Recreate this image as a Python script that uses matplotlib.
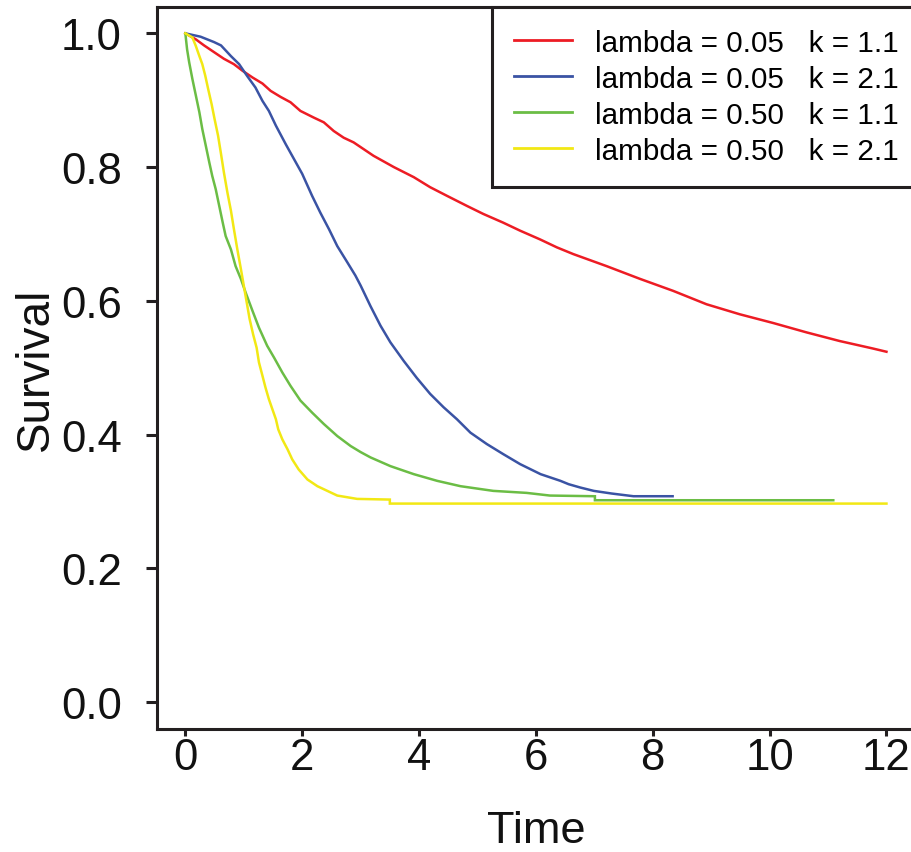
import matplotlib
matplotlib.use("Agg")
import matplotlib.pyplot as plt

plt.rcParams['font.family'] = ['Liberation Sans', 'DejaVu Sans']

# ---- data ----
red_t = [0, 0.18, 0.32, 0.49, 0.66, 0.83, 0.98, 1.15, 1.32, 1.46, 1.63, 1.80, 1.97, 2.20, 2.37,
         2.54, 2.71, 2.88, 3.05, 3.22, 3.57, 3.91, 4.19, 4.48, 4.82, 5.10, 5.44, 5.73, 6.07, 6.36,
         6.64, 7.21, 7.78, 8.35, 8.92, 9.49, 10.06, 10.63, 11.20, 11.76, 12.0]
red_s = [1.0, 0.991, 0.982, 0.972, 0.962, 0.954, 0.944, 0.934, 0.925, 0.914, 0.905, 0.897, 0.884,
         0.874, 0.867, 0.854, 0.844, 0.837, 0.827, 0.817, 0.800, 0.785, 0.770, 0.757, 0.742, 0.730,
         0.717, 0.705, 0.692, 0.680, 0.670, 0.652, 0.633, 0.615, 0.595, 0.580, 0.567, 0.553, 0.540,
         0.529, 0.524]

blue_t = [0, 0.26, 0.49, 0.61, 0.78, 0.92, 1.06, 1.20, 1.32, 1.43, 1.55, 1.72, 1.86, 2.00, 2.17,
          2.31, 2.46, 2.60, 2.77, 2.91, 3.00, 3.17, 3.34, 3.51, 3.74, 3.96, 4.19, 4.42, 4.65, 4.88,
          5.16, 5.44, 5.73, 6.08, 6.25, 6.42, 6.56, 6.76, 6.99, 7.30, 7.67, 8.34]
blue_s = [1.0, 0.995, 0.987, 0.982, 0.966, 0.954, 0.936, 0.919, 0.899, 0.884, 0.862, 0.834, 0.812,
          0.790, 0.757, 0.732, 0.707, 0.682, 0.658, 0.638, 0.623, 0.592, 0.563, 0.538, 0.510, 0.485,
          0.461, 0.441, 0.423, 0.403, 0.386, 0.371, 0.356, 0.341, 0.336, 0.331, 0.326, 0.321, 0.316,
          0.312, 0.308, 0.308]

green_t = [0, 0.03, 0.065, 0.12, 0.18, 0.24, 0.29, 0.35, 0.41, 0.46, 0.52, 0.58, 0.64, 0.69, 0.78,
           0.86, 0.95, 1.03, 1.15, 1.26, 1.40, 1.52, 1.66, 1.80, 1.97, 2.17, 2.37, 2.60, 2.83, 3.00,
           3.17, 3.51, 3.91, 4.31, 4.71, 5.27, 5.84, 6.24, 7.01, 7.01, 11.09]
green_s = [1.0, 0.976, 0.957, 0.932, 0.907, 0.882, 0.857, 0.832, 0.807, 0.787, 0.767, 0.742, 0.717,
           0.697, 0.677, 0.652, 0.633, 0.613, 0.585, 0.560, 0.533, 0.515, 0.493, 0.473, 0.451, 0.433,
           0.416, 0.398, 0.383, 0.374, 0.366, 0.353, 0.341, 0.331, 0.323, 0.316, 0.313, 0.309, 0.308,
           0.302, 0.302]

yellow_t = [0, 0.12, 0.18, 0.24, 0.29, 0.34, 0.39, 0.45, 0.50, 0.56, 0.61, 0.66, 0.72, 0.78, 0.83,
            0.89, 0.95, 1.00, 1.05, 1.10, 1.16, 1.22, 1.26, 1.32, 1.37, 1.43, 1.49, 1.55, 1.59, 1.66,
            1.75, 1.83, 1.94, 2.09, 2.26, 2.43, 2.60, 2.94, 3.50, 3.50, 12.0]
yellow_s = [1.0, 0.994, 0.981, 0.966, 0.954, 0.937, 0.917, 0.894, 0.872, 0.847, 0.820, 0.792, 0.762,
            0.735, 0.708, 0.677, 0.648, 0.623, 0.598, 0.573, 0.550, 0.530, 0.508, 0.488, 0.471, 0.453,
            0.438, 0.423, 0.408, 0.393, 0.378, 0.363, 0.348, 0.333, 0.323, 0.316, 0.309, 0.304, 0.303,
            0.297, 0.297]

series_labels = ["lambda = 0.05   k = 1.1", "lambda = 0.05   k = 2.1",
                 "lambda = 0.50   k = 1.1", "lambda = 0.50   k = 2.1"]
series_colors = ["#ED1C24", "#3A53A4", "#6BBD45", "#F2E814"]

x_ticks = [0, 2, 4, 6, 8, 10, 12]
y_ticks = [0.0, 0.2, 0.4, 0.6, 0.8, 1.0]
x_label = "Time"
y_label = "Survival"

# ---- figure ----
W, H = 912, 853
fig = plt.figure(figsize=(W / 100, H / 100), dpi=100)
left_px, right_px, top_px, bottom_px = 157.3, 914.5, 7.6, 730.0
ax = fig.add_axes([left_px / W, 1 - bottom_px / H, (right_px - left_px) / W, (bottom_px - top_px) / H])

dark = "#231F20"
txt = "#111111"
lw = 1.8
series = [(red_t, red_s), (blue_t, blue_s), (green_t, green_s), (yellow_t, yellow_s)]
handles = []
for (t, s), c, lab in zip(series, series_colors, series_labels):
    h, = ax.plot(t, s, color=c, lw=lw, label=lab, solid_joinstyle='miter')
    handles.append(h)

ax.set_xlim(-0.48, 12.48)
ax.set_ylim(-0.04, 1.04)
ax.set_xticks(x_ticks)
ax.set_xticklabels([f"{v:g}" for v in x_ticks])
ax.set_yticks(y_ticks)
ax.set_yticklabels([f"{v:.1f}" for v in y_ticks])

for sp in ax.spines.values():
    sp.set_linewidth(2.2)
    sp.set_color(dark)

ax.tick_params(axis='y', length=8, width=2.2, color=dark, labelsize=31.5, pad=17.5, labelcolor=txt)
ax.tick_params(axis='x', length=5, width=2.2, color=dark, labelsize=31.5, pad=1.0, labelcolor=txt)

ax.set_xlabel(x_label, fontsize=32.5, va='baseline', color=txt)
ax.xaxis.set_label_coords(0.5, (bottom_px - 843.5) / (bottom_px - top_px))
ax.set_ylabel(y_label, fontsize=33, va='baseline', color=txt)
ax.yaxis.set_label_coords((48.0 - left_px) / (right_px - left_px), (bottom_px - 369) / (bottom_px - top_px))

leg = ax.legend(handles=handles, loc='upper right', bbox_to_anchor=(1.008, 1.0), borderaxespad=0,
                fontsize=21.3, frameon=True, fancybox=False, handlelength=1.95, handletextpad=0.78,
                borderpad=0.75, labelspacing=0.27, framealpha=1.0)
leg.get_frame().set_linewidth(2.2)
leg.get_frame().set_edgecolor(dark)
for ln in leg.get_lines():
    ln.set_linewidth(2.0)

fig.savefig("out.png", dpi=100)
